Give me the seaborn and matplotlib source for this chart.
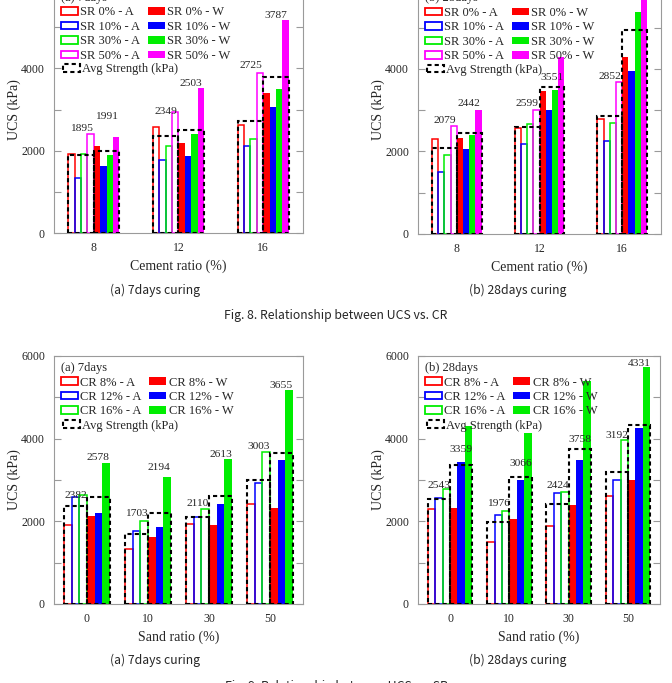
import numpy as np
import pandas as pd
import matplotlib
matplotlib.use("Agg")
import matplotlib.pyplot as plt
import seaborn as sns
from matplotlib.patches import Patch
from matplotlib.ticker import MultipleLocator

# ---------------- data ----------------
# Fig. 8 : UCS vs cement ratio, series = sand ratio
cr_cats = ["8", "12", "16"]
sr_levels = [0, 10, 30, 50]
cr7_A = [[1920, 2578, 2630], [1340, 1770, 2110], [1920, 2117, 2280], [2400, 2933, 3880]]
cr7_W = [[2110, 2198, 3410], [1620, 1866, 3070], [1900, 2416, 3507], [2334, 3530, 5161]]
cr7_avgA = [1895, 2349, 2725]
cr7_avgW = [1991, 2503, 3787]

cr28_A = [[2290, 2570, 2778], [1510, 2168, 2256], [1900, 2664, 2698], [2616, 2995, 3678]]
cr28_W = [[2313, 3450, 4296], [2060, 2990, 3935], [2401, 3490, 5388], [2994, 4274, 6100]]
cr28_avgA = [2079, 2599, 2852]
cr28_avgW = [2442, 3551, 4930]

# Fig. 9 : UCS vs sand ratio, series = cement ratio
sr_cats = ["0", "10", "30", "50"]
cr_levels = [8, 12, 16]
sr7_A = [[1920, 1335, 1928, 2410], [2580, 1770, 2113, 2930], [2646, 2004, 2290, 3669]]
sr7_W = [[2121, 1629, 1911, 2315], [2202, 1871, 2420, 3484], [3411, 3082, 3509, 5166]]
sr7_avgA = [2382, 1703, 2110, 3003]
sr7_avgW = [2578, 2194, 2613, 3655]

sr28_A = [[2290, 1510, 1895, 2620], [2557, 2165, 2675, 2990], [2782, 2253, 2702, 3966]]
sr28_W = [[2325, 2065, 2403, 3000], [3444, 2992, 3484, 4266], [4307, 4141, 5387, 5727]]
sr28_avgA = [2543, 1976, 2424, 3192]
sr28_avgW = [3359, 3066, 3758, 4331]

# ---------------- layout (label placement, kPa) ----------------
lab7cr_A, lab7cr_W = [2545, 2949, 4056], [2828, 3636, 5276]
lab28cr_A, lab28cr_W = [2754, 3156, 3814], [3156, 3790, 6250]
lab7sr_A, lab7sr_W = [2637, 2178, 2436, 3807], [3549, 3307, 3629, 5282]
lab28sr_A, lab28sr_W = [2863, 2436, 2879, 4073], [3750, 3403, 3984, 5823]

sns.set_theme(style="white")
plt.rcParams["font.family"] = ["Liberation Serif", "DejaVu Serif"]

W, H = 672, 683
fig = plt.figure(figsize=(W / 100, H / 100), dpi=100)

def px_axes(left, right, top, bottom):
    ax = fig.add_axes([left / W, 1 - bottom / H, (right - left) / W, (bottom - top) / H])
    return ax, right - left, bottom - top

SPINE = "#9a9a9a"
CAPFONT = ["Liberation Sans Narrow", "Noto Sans CJK KR", "DejaVu Sans"]

def panel(ax, axw, axh, cats, levels, prefix, vals_A, vals_W, colors, avgA, avgW,
          labA, labW, width, title, xlabel, xlim, avg_row_px):
    names_A = [f"{prefix} {g}% - A" for g in levels]
    names_W = [f"{prefix} {g}% - W" for g in levels]
    order_h = names_A + names_W
    rows = []
    for name, vals in zip(order_h, vals_A + vals_W):
        for c, v in zip(cats, vals):
            rows.append((c, name, v))
    df = pd.DataFrame(rows, columns=["cat", "series", "ucs"])
    cols2 = colors + colors
    pal = dict(zip(order_h, cols2))
    sns.barplot(data=df, x="cat", y="ucs", hue="series", hue_order=order_h, order=cats,
                palette=pal, width=width, errorbar=None, legend=False, ax=ax,
                saturation=1)
    nh = len(order_h)
    bw = width / nh
    n = len(levels)
    for p in ax.patches:
        xc = p.get_x() + p.get_width() / 2
        idx = int(round((xc - round(xc)) / bw + (nh - 1) / 2))
        col = cols2[idx]
        if idx < n:
            p.set_facecolor("none")
            p.set_edgecolor(col)
            p.set_linewidth(1.1)
        else:
            p.set_facecolor(col)
            p.set_edgecolor(col)
            p.set_linewidth(0)
        p.set_zorder(2)

    xs = np.arange(len(cats))
    half = width / 2
    box_kw = dict(width=half, fill=False, edgecolor="black", linestyle=(0, (2, 1.5)),
                  linewidth=1.5, zorder=4)
    ax.bar(xs - half / 2, avgA, **box_kw)
    ax.bar(xs + half / 2, avgW, **box_kw)
    for i in range(len(cats)):
        ax.text(xs[i] - half / 2, labA[i], str(avgA[i]), ha="center", va="center",
                fontsize=8.2, zorder=6, clip_on=False)
        ax.text(xs[i] + half / 2, labW[i], str(avgW[i]), ha="center", va="center",
                fontsize=8.2, zorder=6, clip_on=False)

    ax.set_xlim(xlim)
    ax.set_ylim(0, 6000)
    ax.yaxis.set_major_locator(MultipleLocator(2000))
    ax.yaxis.set_minor_locator(MultipleLocator(1000))
    ax.tick_params(axis="y", which="both", direction="in", length=5, width=0.8,
                   color=SPINE, left=True, right=True, labelsize=8.5, pad=6.5)
    ax.tick_params(axis="x", length=0, labelsize=8.5, pad=6.5)
    for s in ax.spines.values():
        s.set_color(SPINE)
        s.set_linewidth(0.8)
    ax.set_xlabel(xlabel, fontsize=10)
    ax.set_ylabel("UCS (kPa)", fontsize=10)
    ax.xaxis.set_label_coords(0.5, -33 / axh)
    ax.xaxis.label.set_va("center")
    ax.yaxis.set_label_coords(-40 / axw, 0.5)
    ax.yaxis.label.set_va("center")
    ax.yaxis.label.set_ha("center")

    handles = [Patch(facecolor="none", edgecolor=c, linewidth=1.3) for c in colors] + \
              [Patch(facecolor=c, edgecolor=c, linewidth=0) for c in colors]
    leg_kw = dict(frameon=False, fontsize=9, handlelength=1.35, handleheight=0.55,
                  handletextpad=0.2, borderpad=0, borderaxespad=0)
    leg = ax.legend(handles, order_h, ncol=2, loc="upper left",
                    bbox_to_anchor=(7 / axw, 1 - 6 / axh), title=title,
                    alignment="left", title_fontsize=9, columnspacing=0.6,
                    labelspacing=0.2, **leg_kw)
    ax.add_artist(leg)
    ax.legend([Patch(facecolor="none", edgecolor="black", linestyle=(0, (2, 1.5)),
                     linewidth=1.5)], ["Avg Strength (kPa)"], loc="center left",
              bbox_to_anchor=(9 / axw, 1 - avg_row_px / axh), **leg_kw)

red, blue, green, mag = "#ff0000", "#0000ff", "#00ee00", "#ff00ff"

ax1, w1, h1 = px_axes(54, 303, -14.2, 233.3)
panel(ax1, w1, h1, cr_cats, sr_levels, "SR", cr7_A, cr7_W, [red, blue, green, mag],
      cr7_avgA, cr7_avgW, lab7cr_A, lab7cr_W, 0.6, "(a) 7days", "Cement ratio (%)",
      (-0.47, 2.47), 83.5)

ax2, w2, h2 = px_axes(418, 661, -13.7, 233.8)
panel(ax2, w2, h2, cr_cats, sr_levels, "SR", cr28_A, cr28_W, [red, blue, green, mag],
      cr28_avgA, cr28_avgW, lab28cr_A, lab28cr_W, 0.6, "(b) 28days", "Cement ratio (%)",
      (-0.47, 2.47), 83.5)

ax3, w3, h3 = px_axes(54, 303, 356, 604)
panel(ax3, w3, h3, sr_cats, cr_levels, "CR", sr7_A, sr7_W, [red, blue, green],
      sr7_avgA, sr7_avgW, lab7sr_A, lab7sr_W, 0.75, "(a) 7days", "Sand ratio (%)",
      (-0.54, 3.54), 69.5)

ax4, w4, h4 = px_axes(418, 660, 356, 604)
panel(ax4, w4, h4, sr_cats, cr_levels, "CR", sr28_A, sr28_W, [red, blue, green],
      sr28_avgA, sr28_avgW, lab28sr_A, lab28sr_W, 0.75, "(b) 28days", "Sand ratio (%)",
      (-0.54, 3.54), 69.5)

def cap(x, y, s, size):
    fig.text(x / W, 1 - y / H, s, ha="center", va="center", fontsize=size, family=CAPFONT)

cap(155, 290, "(a) 7days curing", 8.8)
cap(518, 290, "(b) 28days curing", 8.8)
cap(336, 315, "Fig. 8. Relationship between UCS vs. CR", 8.8)
cap(155, 660, "(a) 7days curing", 8.8)
cap(518, 660, "(b) 28days curing", 8.8)
cap(336, 687, "Fig. 9. Relationship between UCS vs. SR", 8.8)

fig.savefig("out.png", dpi=100)
